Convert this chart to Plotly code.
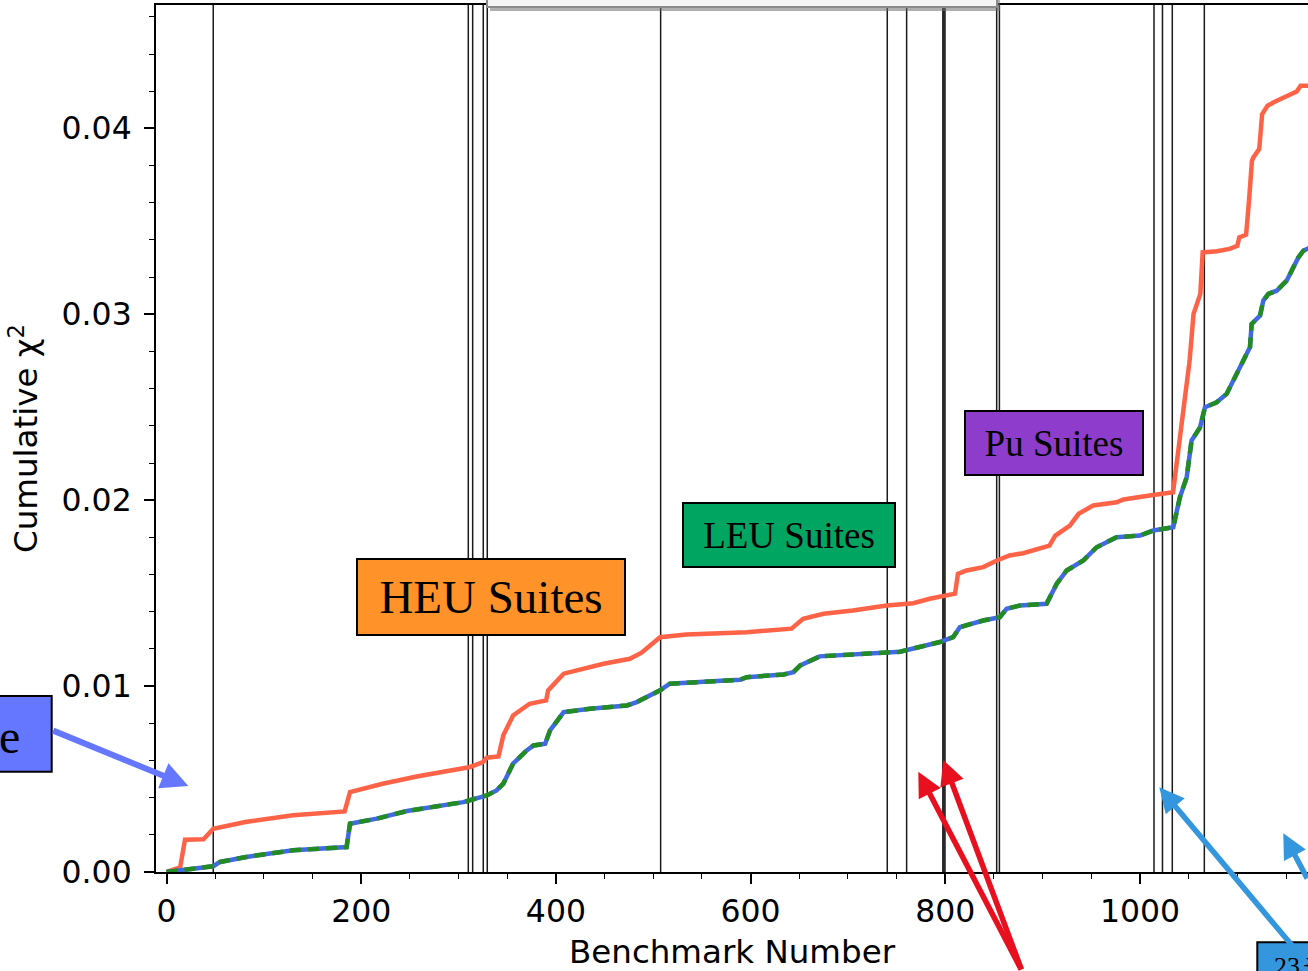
import plotly.graph_objects as go

# ---- cumulative chi-square along the benchmark sequence ----
red_x = [0, 14, 19, 38, 48, 81, 130, 183, 188.5, 222, 257, 291, 312, 325, 329,
         341, 346, 356, 373, 390, 392, 408, 428, 449, 476, 488, 507, 534, 596, 642,
         654, 675, 705, 740, 767, 784, 810, 813, 822, 839, 853, 866, 880, 907, 913,
         928, 937, 952, 976, 983, 1010, 1034, 1044.5, 1051, 1055, 1062, 1064.4, 1079,
         1092, 1100, 1102, 1109, 1112, 1115, 1116.5, 1122.5, 1125.5, 1131, 1139, 1147,
         1154, 1161, 1165, 1175]
red_y = [0, 0.00025, 0.00174, 0.00176, 0.00233, 0.00269, 0.00305, 0.00326, 0.0043,
         0.00475, 0.00514, 0.00547, 0.00565, 0.00591, 0.00615, 0.00622, 0.00735,
         0.00842, 0.00905, 0.00923, 0.00977, 0.01067, 0.01094, 0.0112, 0.01147, 0.0118,
         0.01263, 0.01278, 0.0129, 0.01309, 0.01362, 0.01389, 0.01407, 0.01434, 0.01446,
         0.0147, 0.01497, 0.01604, 0.01622, 0.0164, 0.01676, 0.01703, 0.01715, 0.01756,
         0.0181, 0.01864, 0.01927, 0.01972, 0.01989, 0.02004, 0.02025, 0.02043, 0.02482,
         0.02751, 0.03002, 0.0311, 0.03333, 0.03339, 0.03352, 0.03369, 0.03414, 0.03428,
         0.03611, 0.03826, 0.03844, 0.03889, 0.04077, 0.04122, 0.04145, 0.04167, 0.04185,
         0.04199, 0.0423, 0.0423]

blue_x = [0, 15.6, 34.4, 48, 55, 82, 130, 185, 188.5, 216, 247, 271, 291, 305, 329,
          339, 346, 356, 370, 377, 389, 394, 408, 435, 473, 483, 507, 517, 565, 589,
          596, 634, 644, 651, 671, 702, 753.5, 794.5, 808, 815, 839, 856, 863, 877, 904,
          914.4, 924.7, 941.8, 955.5, 976, 1000, 1013.7, 1034.2, 1041, 1048, 1053,
          1061.7, 1066.8, 1078.8, 1089, 1099.3, 1106, 1113, 1114.7, 1123.3, 1126.7,
          1131.9, 1140.4, 1150.7, 1155.8, 1162.7, 1167.8, 1175]
blue_y = [0, 0.00009, 0.00018, 0.00031, 0.00054, 0.00081, 0.00117, 0.00134, 0.0026,
          0.00287, 0.00328, 0.00349, 0.00362, 0.00376, 0.00412, 0.00439, 0.00475,
          0.00583, 0.00654, 0.00681, 0.0069, 0.00762, 0.0086, 0.00878, 0.00896, 0.00914,
          0.00977, 0.01013, 0.01027, 0.01034, 0.01048, 0.01063, 0.01075, 0.01111, 0.0116,
          0.0117, 0.01185, 0.01237, 0.01263, 0.01317, 0.01353, 0.01371, 0.01416, 0.01434,
          0.01443, 0.0155, 0.01622, 0.01676, 0.01747, 0.01801, 0.0181, 0.01837, 0.01855,
          0.02016, 0.02124, 0.02321, 0.02392, 0.025, 0.02527, 0.02572, 0.0268, 0.02751,
          0.02823, 0.02948, 0.02993, 0.03074, 0.0311, 0.03127, 0.03181, 0.03235, 0.03306,
          0.03342, 0.0336]

# benchmark indices where one suite ends and the next begins
suite_boundaries = [48, 310.0, 314.5, 325.4, 329.5, 507.6, 740.4, 760.3, 797.5, 798.6,
                    799.7, 852.8, 855.6, 1014.4, 1023.1, 1033.2, 1066.1]

y_ticks = [0.0, 0.01, 0.02, 0.03, 0.04]
x_ticks = [0, 200, 400, 600, 800, 1000]

# ---- page geometry ----
FIG_W, FIG_H = 1308, 971
M_L, M_R, M_T, M_B = 156, 0, 5, 99
PLOT_W = FIG_W - M_L - M_R
PLOT_H = FIG_H - M_T - M_B


def px_x(p):
    """page pixel column -> paper fraction"""
    return (p - M_L) / PLOT_W


def px_y(p):
    """page pixel row -> paper fraction"""
    return (FIG_H - M_B - p) / PLOT_H


fig = go.Figure()

for xb in suite_boundaries:
    fig.add_shape(type="line", xref="x", yref="paper", x0=xb, x1=xb, y0=0, y1=1,
                  line=dict(color="#1a1a1a", width=1.5), layer="below")

fig.add_trace(go.Scatter(x=red_x, y=red_y, mode="lines",
                         line=dict(color="#ff6347", width=4.5), showlegend=False))
fig.add_trace(go.Scatter(x=blue_x, y=blue_y, mode="lines",
                         line=dict(color="#4169e1", width=4.5), showlegend=False))
fig.add_trace(go.Scatter(x=blue_x, y=blue_y, mode="lines",
                         line=dict(color="#228b22", width=4.5, dash="11px,7px"),
                         showlegend=False))

TICK_FONT = dict(family="DejaVu Sans", size=31.5, color="black")
TITLE_FONT = dict(family="DejaVu Sans", size=32.5, color="black")

fig.update_layout(
    width=FIG_W, height=FIG_H,
    margin=dict(l=M_L, r=M_R, t=M_T, b=M_B, autoexpand=False),
    paper_bgcolor="white", plot_bgcolor="white",
    showlegend=False,
    xaxis=dict(
        range=[-10.8, 1172.6], tickvals=x_ticks, ticktext=[str(v) for v in x_ticks],
        ticks="outside", ticklen=10, tickwidth=1.6, tickcolor="black",
        minor=dict(dtick=50, tick0=0, ticks="outside", ticklen=5, tickwidth=1.3,
                   tickcolor="black"),
        showline=True, linewidth=2, linecolor="black", mirror=True,
        showgrid=False, zeroline=False, tickfont=TICK_FONT,
        title=dict(text="Benchmark Number", font=TITLE_FONT, standoff=12),
    ),
    yaxis=dict(
        range=[0, 0.04664], tickvals=y_ticks, ticktext=[f"{v:.2f}" for v in y_ticks],
        ticks="outside", ticklen=10, tickwidth=1.6, tickcolor="black",
        ticklabelstandoff=6,
        minor=dict(dtick=0.002, tick0=0, ticks="outside", ticklen=5, tickwidth=1.3,
                   tickcolor="black"),
        showline=True, linewidth=2, linecolor="black", mirror=False,
        showgrid=False, zeroline=False, tickfont=TICK_FONT,
        title=dict(text="Cumulative χ<sup>2</sup>", font=TITLE_FONT, standoff=14),
    ),
)

SERIF = "Liberation Serif"

# ---- suite labels ----
labels = [
    ("HEU Suites", "#ff9329", 356, 626, 558, 636, 47),
    ("LEU Suites", "#00a562", 682, 896, 502, 568, 37),
    ("Pu Suites", "#8e3ccc", 964, 1144, 410, 476, 37),
]
for text, color, x0, x1, y0, y1, size in labels:
    fig.add_annotation(
        xref="paper", yref="paper", x=px_x((x0 + x1) / 2), y=px_y((y0 + y1) / 2),
        xanchor="center", yanchor="middle", text=text, showarrow=False,
        font=dict(family=SERIF, size=size, color="black"),
        bgcolor=color, bordercolor="black", borderwidth=2, borderpad=0,
        width=x1 - x0 - 4, height=y1 - y0 - 4,
    )

# box on the left margin
fig.add_shape(type="rect", xref="paper", yref="paper",
              x0=px_x(-60), x1=px_x(51.7), y0=px_y(771.7), y1=px_y(696),
              fillcolor="#6677ff", line=dict(color="black", width=2), layer="above")
fig.add_annotation(xref="paper", yref="paper", x=px_x(9), y=px_y(736),
                   xanchor="center", yanchor="middle", text="e", showarrow=False,
                   font=dict(family=SERIF, size=48, color="black"))

# box at the bottom right
fig.add_shape(type="rect", xref="paper", yref="paper",
              x0=px_x(1257.3), x1=px_x(1400), y0=px_y(1010), y1=px_y(942.3),
              fillcolor="#3496dc", line=dict(color="black", width=2), layer="above")
fig.add_annotation(xref="paper", yref="paper", x=px_x(1272), y=px_y(950),
                   xanchor="left", yanchor="top", text="<sup>233</sup>U",
                   showarrow=False, font=dict(family=SERIF, size=37, color="black"))

# ---- arrows: (tip x, tip y, tail x, tail y, colour, width) in page pixels ----
arrows = [
    (188.3, 786, 51.7, 730, "#6677ff", 6),
    (918.3, 771.7, 1022, 985, "#e8101f", 5.5),
    (943.3, 760, 1022, 985, "#e8101f", 5.5),
    (1159.3, 787.3, 1400, 964.5, "#3496dc", 5.5),
    (1283.3, 833.3, 1340, 880, "#3496dc", 5.5),
]
for tx, ty, sx, sy, color, w in arrows:
    fig.add_annotation(
        xref="paper", yref="paper", x=px_x(tx), y=px_y(ty),
        ax=sx - tx, ay=sy - ty, axref="pixel", ayref="pixel",
        text="", showarrow=True, arrowhead=2, arrowsize=0.9, arrowwidth=w,
        arrowcolor=color,
    )

# legend frame peeking in at the top edge
fig.add_shape(type="rect", xref="paper", yref="paper",
              x0=px_x(490), x1=px_x(1000), y0=px_y(11), y1=px_y(-20),
              fillcolor="rgba(110,110,110,0.55)", line=dict(width=0), layer="above")
fig.add_shape(type="rect", xref="paper", yref="paper",
              x0=px_x(487), x1=px_x(997), y0=px_y(7), y1=px_y(-20),
              fillcolor="#f4f4f4", line=dict(color="#8a8a8a", width=2), layer="above")

fig.write_html("out.html")
